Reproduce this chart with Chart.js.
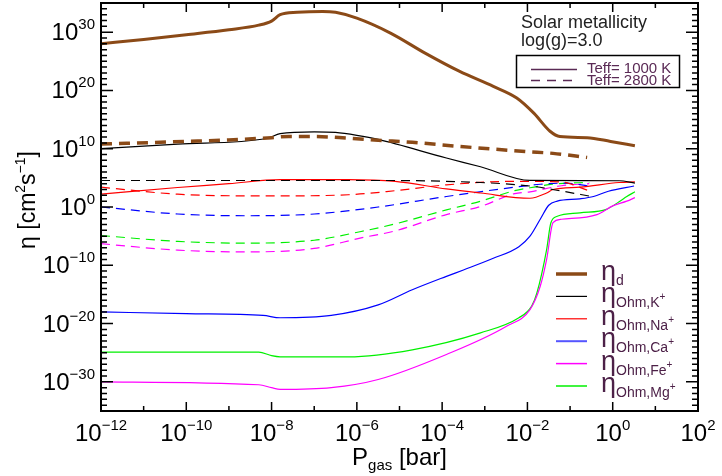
<!DOCTYPE html>
<html>
<head>
<meta charset="utf-8">
<script src="https://cdn.jsdelivr.net/npm/chart.js@4.4.1/dist/chart.umd.min.js"></script>
<style>
  html, body { margin: 0; padding: 0; background: #fff; }
</style>
</head>
<body>
<canvas id="chart" width="722" height="476"></canvas>
<script>
'use strict';

// values are [log10 P_gas (bar), log10 eta (cm^2 s^-1)]
const etaD1000 = [[-12, 28.0], [-11, 28.75], [-10, 29.55], [-9, 30.4], [-8.3, 31.2], [-8.0, 31.9],
  [-7.8, 33.0], [-7.4, 33.4], [-6.8, 33.55], [-6.5, 33.4], [-6.0, 32.4], [-5.2, 29.8],
  [-4.4, 26.4], [-3.6, 23.3], [-2.8, 20.7], [-2.25, 18.7], [-1.85, 16.1], [-1.47, 13.0],
  [-1.24, 12.1], [-0.6, 11.9], [-0.05, 11.25], [0.52, 10.5]];
const etaD2800 = [[-12, 10.8], [-10, 11.25], [-9, 11.5], [-8, 11.9], [-7.6, 12.1], [-7, 12.1],
  [-6.2, 11.8], [-5.5, 11.45], [-4.7, 11.1], [-3.6, 10.4], [-2.0, 9.5], [-1.4, 9.2], [-0.6, 8.5]];

const kOhm1000 = [[-12, 10.0], [-10.2, 10.8], [-8.1, 11.8], [-7.8, 12.6], [-7.0, 12.9], [-6.5, 12.8],
  [-6.0, 12.3], [-5.5, 11.6], [-3.9, 8.4], [-3.1, 6.9], [-1.94, 4.56], [0.15, 4.5], [0.52, 4.1]];
const kOhm2800 = [[-12, 4.55], [-5.5, 4.55], [-3.1, 4.2], [-1.94, 3.6], [-1.17, 2.7], [-0.53, 1.85]];

const naOhm1000 = [[-12, 2.2], [-10.2, 3.35], [-9, 4.0], [-7.8, 4.7], [-6.2, 4.7], [-5.1, 4.4],
  [-3.9, 3.1], [-3.1, 2.4], [-1.94, 1.5], [-1.55, 2.4], [-1.4, 3.0], [-0.77, 3.4], [0.15, 4.2], [0.52, 4.3]];
const naOhm2800 = [[-12, 3.4], [-10.2, 2.2], [-8.1, 1.9], [-6.2, 2.1], [-5.1, 2.8], [-3.9, 3.8],
  [-2.3, 4.4], [-1.2, 4.3], [-0.6, 2.9]];

const caOhm1000 = [[-12, -18.0], [-10, -18.3], [-8.2, -18.6], [-7.8, -19.0], [-6.6, -18.6], [-5.5, -16.8],
  [-4.7, -14.2], [-3.9, -11.9], [-3.5, -10.8], [-2.8, -8.8], [-2.2, -6.8], [-1.94, -5.0], [-1.7, -2.1],
  [-1.5, 0.3], [-1.3, 1.0], [-0.77, 1.4], [-0.45, 1.8], [-0.1, 2.7], [0.5, 3.6]];
const caOhm2800 = [[-12, 0.0], [-10.2, -1.2], [-8.6, -1.5], [-7, -1.2], [-5.5, 0.0], [-3.9, 1.8],
  [-2.3, 3.4], [-1.7, 3.9], [-1.1, 4.1], [-0.55, 3.6]];

const feOhm1000 = [[-12, -30.0], [-8.3, -30.5], [-8.0, -31.0], [-7.8, -31.3], [-6.6, -31.0], [-5.5, -29.6],
  [-3.9, -25.3], [-2.5, -20.5], [-1.94, -17.6], [-1.7, -13.6], [-1.55, -9.0], [-1.4, -2.7], [-1.2, -2.1],
  [-0.37, -1.3], [0.0, 0.2], [0.33, 1.0], [0.52, 1.6]];
const feOhm2800 = [[-12, -6.3], [-10.2, -7.4], [-8.6, -7.7], [-7, -7.1], [-5.9, -5.3], [-5.1, -4.1],
  [-3.9, -1.3], [-3.1, 0.1], [-2.3, 2.3], [-1.94, 2.6], [-1.2, 3.65], [-0.55, 4.0]];

const mgOhm1000 = [[-12, -24.9], [-8.3, -24.9], [-8.0, -25.5], [-7.8, -25.7], [-6.2, -25.7], [-4.7, -24.5],
  [-3.1, -21.6], [-2.2, -19.0], [-1.9, -17.0], [-1.78, -14.8], [-1.55, -7.3], [-1.45, -2.7], [-1.3, -1.6],
  [-0.77, -1.0], [-0.15, -0.4], [0.15, 0.9], [0.33, 1.8], [0.52, 2.6]];
const mgOhm2800 = [[-12, -4.9], [-10.2, -5.9], [-8.6, -6.2], [-7, -5.7], [-5.9, -4.2], [-5.1, -2.9],
  [-3.9, -0.5], [-3.1, 1.0], [-2.3, 2.8], [-1.94, 3.3], [-1.3, 4.0], [-0.55, 4.2]];

const xTickExps = [-12, -10, -8, -6, -4, -2, 0, 2];
const yTickExps = [-30, -20, -10, 0, 10, 20, 30];

const legendNames = [['d', ''], ['Ohm,K', '+'], ['Ohm,Na', '+'], ['Ohm,Ca', '+'], ['Ohm,Fe', '+'], ['Ohm,Mg', '+']];
const tempNames = ['Teff= 1000 K', 'Teff= 2800 K'];
const noteLines = ['Solar metallicity', 'log(g)=3.0'];

const BROWN = '#8b4a17';
const TEXT_PURPLE = '#4d2148';
const FONT = '"Liberation Sans", Arial, Helvetica, sans-serif';

const SERIES = [
  { name: 'eta_d 1000', data: etaD1000, color: BROWN, width: 3, dash: [] },
  { name: 'eta_d 2800', data: etaD2800, color: BROWN, width: 3.5, dash: [11, 7] },
  { name: 'K 1000', data: kOhm1000, color: '#000000', width: 1.2, dash: [] },
  { name: 'K 2800', data: kOhm2800, color: '#000000', width: 1.2, dash: [9, 6] },
  { name: 'Na 1000', data: naOhm1000, color: '#ff0000', width: 1.2, dash: [] },
  { name: 'Na 2800', data: naOhm2800, color: '#ff0000', width: 1.2, dash: [9, 6] },
  { name: 'Ca 1000', data: caOhm1000, color: '#0000ff', width: 1.2, dash: [] },
  { name: 'Ca 2800', data: caOhm2800, color: '#0000ff', width: 1.2, dash: [9, 6] },
  { name: 'Fe 1000', data: feOhm1000, color: '#ff00ff', width: 1.2, dash: [] },
  { name: 'Fe 2800', data: feOhm2800, color: '#ff00ff', width: 1.2, dash: [9, 6] },
  { name: 'Mg 1000', data: mgOhm1000, color: '#00f000', width: 1.2, dash: [] },
  { name: 'Mg 2800', data: mgOhm2800, color: '#00f000', width: 1.2, dash: [9, 6] }
];

const LEGEND_STYLES = [
  { color: BROWN, width: 3.5 },
  { color: '#000000', width: 1.2 },
  { color: '#ff0000', width: 1.2 },
  { color: '#5555ff', width: 2 },
  { color: '#ff00ff', width: 1.5 },
  { color: '#00f000', width: 1.5 }
];

/* measure and draw a run of text pieces (for sub/superscripts) */
function runsWidth(ctx, runs) {
  let w = 0;
  for (const r of runs) {
    ctx.font = r.size + 'px ' + FONT;
    w += ctx.measureText(r.t).width;
  }
  return w;
}

function drawRuns(ctx, x, y, runs, align) {
  const w = runsWidth(ctx, runs);
  if (align === 'center') x -= w / 2;
  else if (align === 'right') x -= w;
  ctx.textAlign = 'left';
  ctx.textBaseline = 'alphabetic';
  for (const r of runs) {
    ctx.font = r.size + 'px ' + FONT;
    ctx.fillText(r.t, x, y + (r.dy || 0));
    x += ctx.measureText(r.t).width;
  }
}

function powRuns(e) {
  const exp = e < 0 ? '\u2212' + (-e) : String(e);
  return [{ t: '10', size: 24 }, { t: exp, size: 15, dy: -11 }];
}

const decorPlugin = {
  id: 'decor',
  afterDatasetsDraw(chart) {
    const { ctx, chartArea: a, scales } = chart;
    const xs = scales.x, ys = scales.y;
    ctx.save();

    // frame
    ctx.strokeStyle = '#000';
    ctx.lineWidth = 2;
    ctx.strokeRect(a.left, a.top, a.right - a.left, a.bottom - a.top);

    // inward ticks on all four sides
    ctx.lineWidth = 1.5;
    ctx.beginPath();
    for (let k = -12; k <= 2; k++) {
      const px = xs.getPixelForValue(Math.pow(10, k));
      const len = k % 2 === 0 ? 9 : 5;
      ctx.moveTo(px, a.bottom); ctx.lineTo(px, a.bottom - len);
      ctx.moveTo(px, a.top); ctx.lineTo(px, a.top + len);
    }
    for (let k = -35; k <= 35; k++) {
      const py = ys.getPixelForValue(Math.pow(10, k));
      const len = k % 10 === 0 ? 12 : 6;
      ctx.moveTo(a.left, py); ctx.lineTo(a.left + len, py);
      ctx.moveTo(a.right, py); ctx.lineTo(a.right - len, py);
    }
    ctx.stroke();

    // tick labels
    ctx.fillStyle = '#000';
    for (const k of xTickExps) {
      drawRuns(ctx, xs.getPixelForValue(Math.pow(10, k)), 441, powRuns(k), 'center');
    }
    for (const k of yTickExps) {
      drawRuns(ctx, 95, ys.getPixelForValue(Math.pow(10, k)) + 8, powRuns(k), 'right');
    }

    // axis titles
    drawRuns(ctx, (a.left + a.right) / 2, 465, [
      { t: 'P', size: 24 }, { t: 'gas', size: 15, dy: 5 }, { t: ' [bar]', size: 24 }
    ], 'center');
    ctx.save();
    ctx.translate(35, 200);
    ctx.rotate(-Math.PI / 2);
    drawRuns(ctx, 0, 0, [
      { t: '\u03b7 [cm', size: 23 }, { t: '2', size: 14, dy: -10 }, { t: 's', size: 23 },
      { t: '\u22121', size: 14, dy: -10 }, { t: ']', size: 23 }
    ], 'center');
    ctx.restore();

    // note top right
    ctx.fillStyle = '#222';
    ctx.font = '18px ' + FONT;
    ctx.textAlign = 'left';
    ctx.fillText(noteLines[0], 521, 28);
    ctx.fillText(noteLines[1], 521, 46);

    // temperature legend box
    ctx.strokeStyle = '#000';
    ctx.lineWidth = 1.5;
    ctx.strokeRect(516.5, 55.5, 163, 32);
    ctx.strokeStyle = '#5a2a55';
    ctx.lineWidth = 1.3;
    ctx.setLineDash([]);
    ctx.beginPath(); ctx.moveTo(531, 69.5); ctx.lineTo(577, 69.5); ctx.stroke();
    ctx.setLineDash([9, 7]);
    ctx.beginPath(); ctx.moveTo(531, 80.5); ctx.lineTo(577, 80.5); ctx.stroke();
    ctx.setLineDash([]);
    ctx.fillStyle = '#5a2a55';
    ctx.font = '15px ' + FONT;
    ctx.fillText(tempNames[0], 587, 73);
    ctx.fillText(tempNames[1], 587, 85);

    // species legend
    legendNames.forEach(([sub, sup], i) => {
      const ly = 274 + i * 22.4;
      const st = LEGEND_STYLES[i];
      ctx.strokeStyle = st.color;
      ctx.lineWidth = st.width;
      ctx.beginPath(); ctx.moveTo(556, ly); ctx.lineTo(587, ly); ctx.stroke();
      ctx.fillStyle = TEXT_PURPLE;
      const runs = [{ t: '\u03b7', size: 27, dy: 6 }, { t: sub, size: 14, dy: 11 }];
      if (sup) runs.push({ t: sup, size: 10, dy: 4 });
      drawRuns(ctx, 601, ly, runs, 'left');
    });

    ctx.restore();
  }
};

const datasets = SERIES.map(s => ({
  label: s.name,
  data: s.data.map(([lp, le]) => ({ x: Math.pow(10, lp), y: Math.pow(10, le) })),
  borderColor: s.color,
  borderWidth: s.width,
  borderDash: s.dash,
  pointRadius: 0,
  fill: false,
  cubicInterpolationMode: 'monotone'
}));

new Chart(document.getElementById('chart'), {
  type: 'line',
  data: { datasets },
  options: {
    responsive: false,
    animation: false,
    events: [],
    layout: { padding: { top: 3, right: 24, left: 0, bottom: 0 } },
    plugins: { legend: { display: false }, tooltip: { enabled: false } },
    scales: {
      x: {
        type: 'logarithmic',
        min: 1e-12,
        max: 1e2,
        grid: { display: false },
        border: { display: false },
        ticks: { display: false },
        afterFit(scale) { scale.height = 65; }
      },
      y: {
        type: 'logarithmic',
        min: 1e-35,
        max: 1e35,
        grid: { display: false },
        border: { display: false },
        ticks: { display: false },
        afterFit(scale) { scale.width = 101; }
      }
    }
  },
  plugins: [decorPlugin]
});
</script>
</body>
</html>
